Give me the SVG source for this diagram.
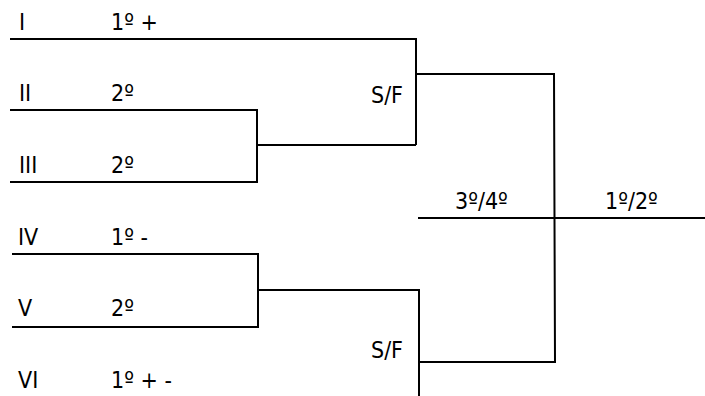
<svg xmlns="http://www.w3.org/2000/svg" width="705" height="396" viewBox="0 0 705 396">
<style>
text{font-family:"DejaVu Sans Condensed","DejaVu Sans",sans-serif;font-size:23px;fill:#000}
.c{fill:none;stroke:#000;stroke-width:2}
</style>
<rect width="705" height="396" fill="#fff"/>
<g id="connectors">
<polyline class="c" points="10,39 416,39 416,145"/>
<polyline class="c" points="10,110 257,110 257,182 10,182"/>
<polyline class="c" points="257,145 416,145"/>
<polyline class="c" points="416,74 554,74 555,362 419,362"/>
<polyline class="c" points="418,218 705,218"/>
<polyline class="c" points="12,254 258,254 258,327 12,327"/>
<polyline class="c" points="258,290 419,290 419,396"/>
</g>
<g id="n1"><text x="19" y="30">I</text><text x="111" y="30">1º +</text></g>
<g id="n2"><text x="19" y="101">II</text><text x="111" y="101">2º</text></g>
<g id="n3"><text x="19" y="173">III</text><text x="111" y="173">2º</text></g>
<g id="n4"><text x="18" y="245">IV</text><text x="111" y="245">1º -</text></g>
<g id="n5"><text x="18" y="316">V</text><text x="111" y="316">2º</text></g>
<g id="n6"><text x="18" y="388">VI</text><text x="111" y="388">1º + -</text></g>
<g id="sf1"><text x="371" y="103">S/F</text></g>
<g id="sf2"><text x="371" y="358">S/F</text></g>
<g id="p34"><text x="455" y="209">3º/4º</text></g>
<g id="p12"><text x="605" y="209">1º/2º</text></g>
</svg>
